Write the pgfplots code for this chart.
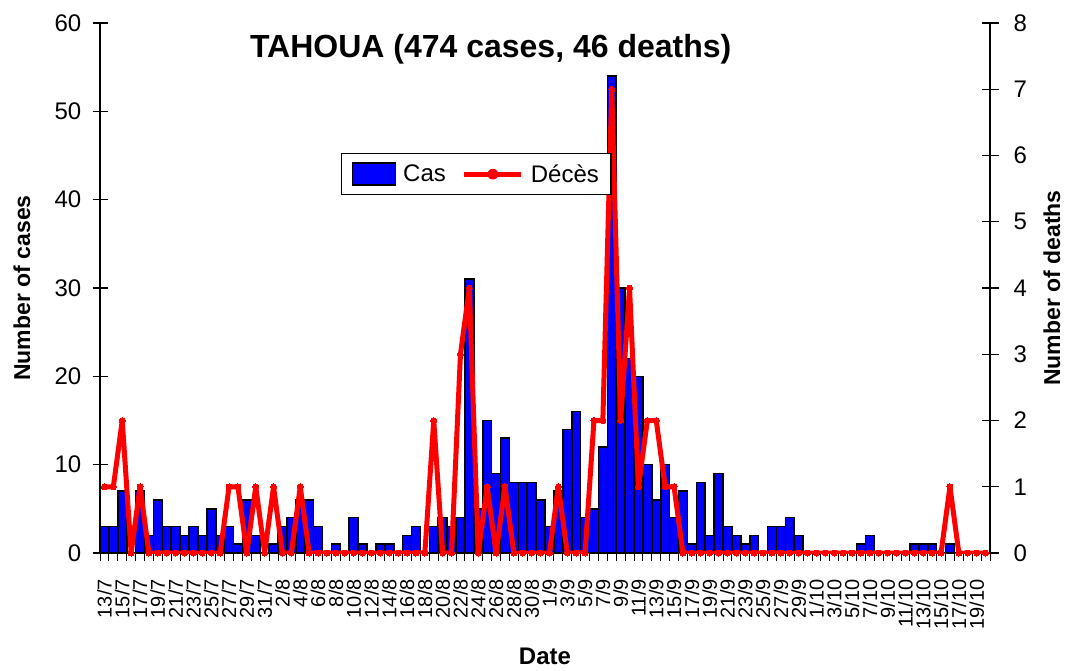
\documentclass[border=0pt]{standalone}
\usepackage{pgfplots}
\pgfplotsset{compat=1.18}
\usepackage{fontspec}
\setmainfont{Liberation Sans}
\definecolor{barblue}{RGB}{0,0,255}
\definecolor{linered}{RGB}{255,0,0}
\pgfplotsset{/pgf/number format/assume math mode=true}
\begin{document}
\begin{tikzpicture}
\path[use as bounding box] (0,0) rectangle (1068pt,670pt);
% cases (left axis)
\begin{axis}[
  at={(100pt,117pt)}, anchor=south west,
  scale only axis, width=890pt, height=530pt,
  xmin=-0.5, xmax=99.5, ymin=0, ymax=60,
  axis x line*=bottom, axis y line*=left,
  axis line style={line width=1.2pt, black},
  ytick={0,10,...,60},
  tick align=center, major tick length=15pt,
  tick style={line width=1.2pt, black},
  major x tick style={draw=none},
  xtick={0,2,...,98},
  xticklabels={13/7,15/7,17/7,19/7,21/7,23/7,25/7,27/7,29/7,31/7,2/8,4/8,6/8,8/8,10/8,12/8,14/8,16/8,18/8,20/8,22/8,24/8,26/8,28/8,30/8,1/9,3/9,5/9,7/9,9/9,11/9,13/9,15/9,17/9,19/9,21/9,23/9,25/9,27/9,29/9,1/10,3/10,5/10,7/10,9/10,11/10,13/10,15/10,17/10,19/10},
  xticklabel style={rotate=90, anchor=east, font=\fontsize{20}{22}\selectfont, inner sep=0pt, xshift=-11pt},
  yticklabel style={font=\fontsize{24}{26}\selectfont, inner sep=0pt, xshift=-11pt},
  ylabel={Number of cases},
  ylabel style={at={(rel axis cs:0,0.5)}, anchor=center, yshift=78pt, font=\bfseries\fontsize{23}{26}\selectfont},
  xlabel={Date},
  xlabel style={at={(rel axis cs:0.5,0)}, anchor=center, yshift=-103pt, font=\bfseries\fontsize{24}{26}\selectfont},
  title={TAHOUA (474 cases, 46 deaths)},
  title style={at={(rel axis cs:0.439,0.94)}, anchor=center, font=\bfseries\fontsize{32}{34}\selectfont},
  ybar, bar width=1, bar shift=0,
]
\addplot[fill=barblue, draw=black, line width=1.6pt] coordinates {
(0,3)(1,3)(2,7)(4,7)(5,2)(6,6)(7,3)(8,3)(9,2)(10,3)(11,2)(12,5)(13,2)(14,3)(15,1)(16,6)(17,2)(19,1)(20,3)(21,4)(22,6)(23,6)(24,3)(26,1)(28,4)(29,1)(31,1)(32,1)(34,2)(35,3)(37,3)(38,4)(39,3)(40,4)(41,31)(42,5)(43,15)(44,9)(45,13)(46,8)(47,8)(48,8)(49,6)(50,3)(51,7)(52,14)(53,16)(54,4)(55,5)(56,12)(57,54)(58,30)(59,22)(60,20)(61,10)(62,6)(63,10)(64,4)(65,7)(66,1)(67,8)(68,2)(69,9)(70,3)(71,2)(72,1)(73,2)(75,3)(76,3)(77,4)(78,2)(85,1)(86,2)(91,1)(92,1)(93,1)(95,1)
};
\end{axis}
% category boundary ticks
\begin{axis}[
  at={(100pt,117pt)}, anchor=south west,
  scale only axis, width=890pt, height=530pt,
  xmin=-0.5, xmax=99.5, ymin=0, ymax=60,
  axis x line*=bottom, axis y line=none,
  axis line style={line width=1.2pt, black},
  xtick={-0.5,0.5,...,99.5}, xticklabels={},
  tick align=outside, major tick length=8pt,
  tick style={line width=1pt, black},
]
\end{axis}
% deaths (right axis)
\begin{axis}[
  at={(100pt,117pt)}, anchor=south west,
  scale only axis, width=890pt, height=530pt,
  xmin=-0.5, xmax=99.5, ymin=0, ymax=8,
  axis x line=none, axis y line*=right,
  axis line style={line width=1.2pt, black},
  ytick={0,1,...,8},
  tick align=center, major tick length=17pt,
  tick style={line width=1.2pt, black},
  yticklabel style={font=\fontsize{24}{26}\selectfont, inner sep=0pt, xshift=15pt},
  ylabel={Number of deaths},
  ylabel style={at={(rel axis cs:1,0.5)}, anchor=center, yshift=-62pt, font=\bfseries\fontsize{23}{26}\selectfont},
  legend columns=2,
  legend style={at={(rel axis cs:0.271,0.755)}, anchor=north west, draw=black, line width=1.2pt,
    font=\fontsize{24}{26}\selectfont, inner xsep=10pt, inner ysep=9pt,
    /tikz/every odd column/.append style={column sep=5pt},
    /tikz/every even column/.append style={column sep=14pt}},
]
\addlegendimage{legend image code/.code={\draw[fill=barblue, draw=black, line width=1.4pt] (0pt,-11pt) rectangle (43pt,11pt);}}
\addlegendentry{Cas}
\addplot[linered, line width=5pt, line join=round, mark=*, mark size=3pt, mark options={fill=linered, draw=linered, line width=0pt},
  legend image code/.code={\draw[linered, line width=5pt] (0pt,0pt) -- (57pt,0pt); \fill[linered] (28.5pt,0pt) circle (3pt);}] coordinates {
(0,1)(1,1)(2,2)(3,0)(4,1)(5,0)(6,0)(7,0)(8,0)(9,0)(10,0)(11,0)(12,0)(13,0)(14,1)(15,1)(16,0)(17,1)(18,0)(19,1)(20,0)(21,0)(22,1)(23,0)(24,0)(25,0)(26,0)(27,0)(28,0)(29,0)(30,0)(31,0)(32,0)(33,0)(34,0)(35,0)(36,0)(37,2)(38,0)(39,0)(40,3)(41,4)(42,0)(43,1)(44,0)(45,1)(46,0)(47,0)(48,0)(49,0)(50,0)(51,1)(52,0)(53,0)(54,0)(55,2)(56,2)(57,7)(58,2)(59,4)(60,1)(61,2)(62,2)(63,1)(64,1)(65,0)(66,0)(67,0)(68,0)(69,0)(70,0)(71,0)(72,0)(73,0)(74,0)(75,0)(76,0)(77,0)(78,0)(79,0)(80,0)(81,0)(82,0)(83,0)(84,0)(85,0)(86,0)(87,0)(88,0)(89,0)(90,0)(91,0)(92,0)(93,0)(94,0)(95,1)(96,0)(97,0)(98,0)(99,0)
};
\addlegendentry{Décès}
\end{axis}
\end{tikzpicture}
\end{document}
